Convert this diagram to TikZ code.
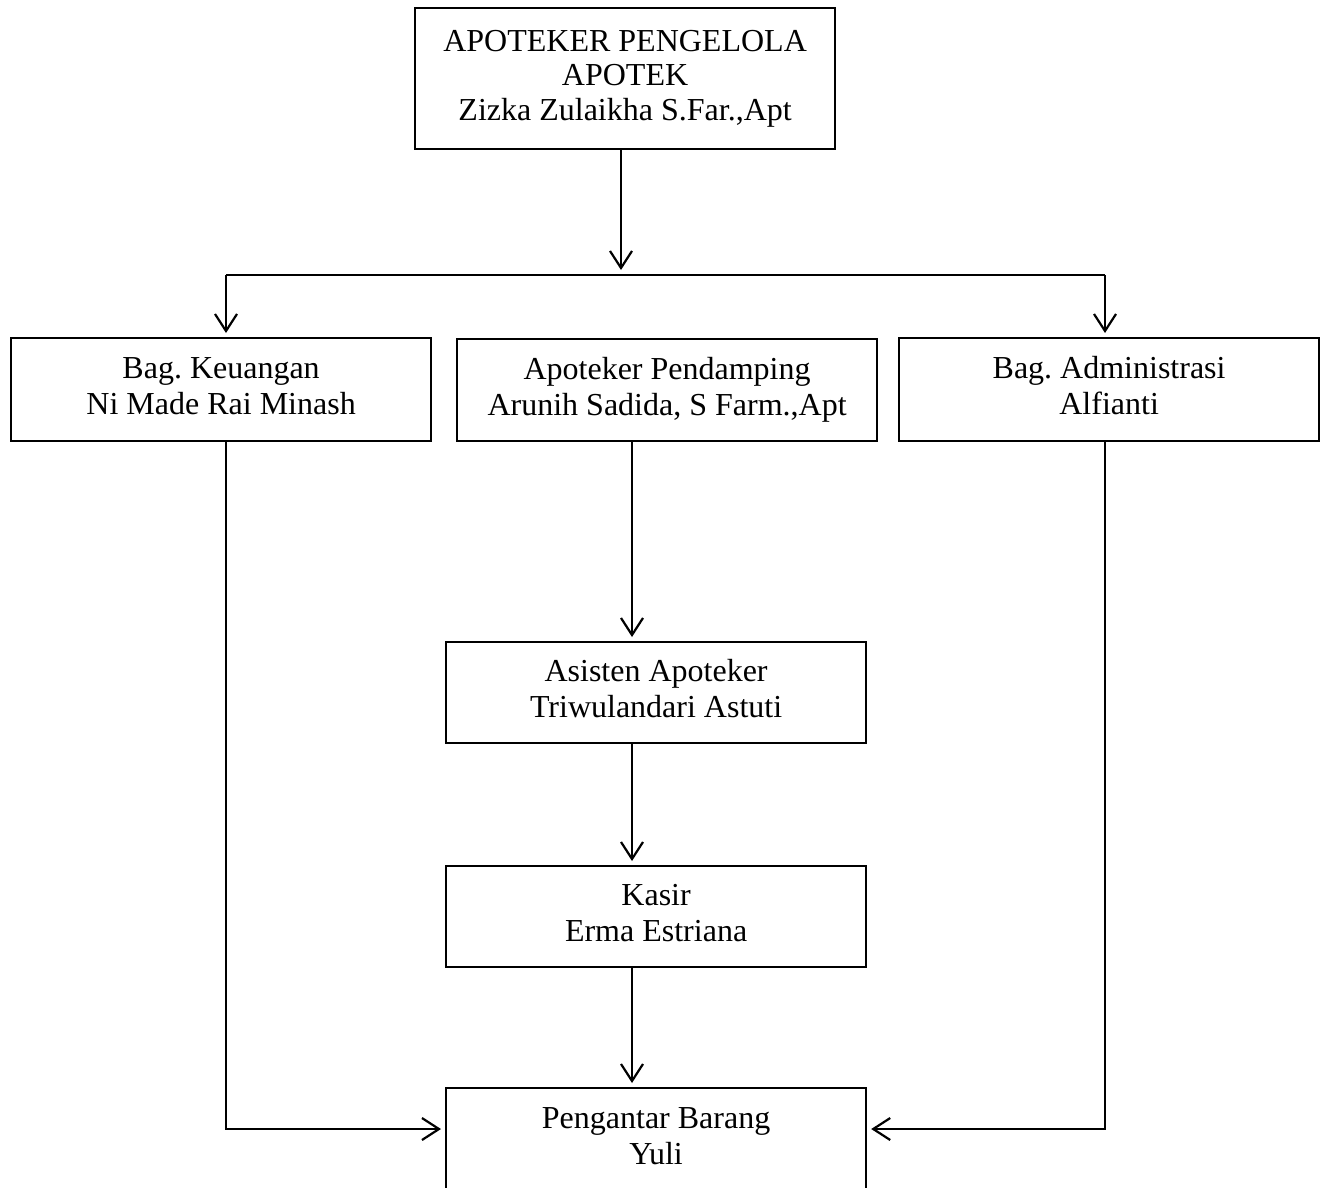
\documentclass[tikz,border=0pt]{standalone}
\usepackage{fontspec}
\setmainfont{Liberation Serif}
\frenchspacing
\usetikzlibrary{arrows.meta}
\newcommand{\twolines}[2]{\raisebox{1pt}{\begin{tabular}{@{}c@{}}#1\\#2\end{tabular}}}
\tikzset{
  box/.style={draw=black, line width=2.2pt, anchor=north west, minimum width=420pt,
    inner sep=0pt, align=center, font=\fontsize{32}{36}\selectfont},
  line/.style={draw=black, line width=2.2pt},
  arr/.style={line, -{Straight Barb[length=17pt,width=22pt,line width=2.2pt]}, shorten >=4pt},
}
\begin{document}
\begin{tikzpicture}[x=1pt,y=-1pt]
\useasboundingbox (0,0) rectangle (1325,1187);
\node[box, minimum height=141pt, font=\fontsize{32}{34.5}\selectfont] (top) at (414,7) {APOTEKER PENGELOLA\\APOTEK\\Zizka Zulaikha S.Far.,Apt};
\node[box, minimum height=103pt] (ku) at (10,337) {\twolines{Bag. Keuangan}{Ni Made Rai Minash}};
\node[box, minimum height=102pt] (pd) at (456,338) {\twolines{Apoteker Pendamping}{Arunih Sadida, S Farm.,Apt}};
\node[box, minimum height=103pt] (ad) at (898,337) {\twolines{Bag. Administrasi}{Alfianti}};
\node[box, minimum height=101pt] (as) at (445,641) {\twolines{Asisten Apoteker}{Triwulandari Astuti}};
\node[box, minimum height=101pt] (ks) at (445,865) {\twolines{Kasir}{Erma Estriana}};
\node[box, minimum height=103pt] (pg) at (445,1087) {\twolines{Pengantar Barang}{Yuli}};
\coordinate (jm) at (621,275);
\coordinate (jl) at (226,275);
\coordinate (jr) at (1105,275);
\coordinate (cx) at (632,0);
\coordinate (by) at (0,1129);
\draw[arr, shorten >=5pt] (top.south -| jm) -- (jm);
\draw[line] (jl) -- (jr);
\draw[arr] (jl) -- (ku.north -| jl);
\draw[arr] (jr) -- (ad.north -| jr);
\draw[arr] (pd.south -| cx) -- (as.north -| cx);
\draw[arr] (as.south -| cx) -- (ks.north -| cx);
\draw[arr] (ks.south -| cx) -- (pg.north -| cx);
\draw[arr] (ku.south -| jl) |- (pg.west |- by);
\draw[arr] (ad.south -| jr) |- (pg.east |- by);
\end{tikzpicture}
\end{document}
